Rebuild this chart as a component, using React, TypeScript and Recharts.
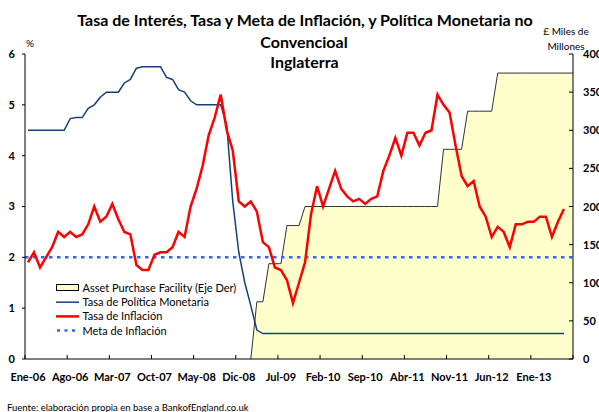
import React from 'react';
import { ComposedChart, Area, Line, XAxis, YAxis, ReferenceLine, Legend } from 'recharts';

const FONT = 'Lato, "DejaVu Sans", sans-serif';

// x-axis tick labels, one every 7 months starting Ene-06
const TICK_LABELS = ['Ene-06', 'Ago-06', 'Mar-07', 'Oct-07', 'May-08', 'Dic-08', 'Jul-09', 'Feb-10', 'Sep-10', 'Abr-11', 'Nov-11', 'Jun-12', 'Ene-13'];
const TICK_STEP = 7;

// Tasa de Política Monetaria (%), monthly Jan-2006 .. Jun-2013
const POLICY_RATE = [
  4.5, 4.5, 4.5, 4.5, 4.5, 4.5, 4.5, 4.73, 4.75, 4.75, 4.93, 5.0,
  5.15, 5.25, 5.25, 5.25, 5.43, 5.5, 5.72, 5.75, 5.75, 5.75, 5.75, 5.54,
  5.5, 5.3, 5.25, 5.08, 5.0, 5.0, 5.0, 5.0, 5.0, 4.6, 3.1, 2.1,
  1.5, 1.05, 0.57, 0.5, 0.5, 0.5, 0.5, 0.5, 0.5, 0.5, 0.5, 0.5,
  0.5, 0.5, 0.5, 0.5, 0.5, 0.5, 0.5, 0.5, 0.5, 0.5, 0.5, 0.5,
  0.5, 0.5, 0.5, 0.5, 0.5, 0.5, 0.5, 0.5, 0.5, 0.5, 0.5, 0.5,
  0.5, 0.5, 0.5, 0.5, 0.5, 0.5, 0.5, 0.5, 0.5, 0.5, 0.5, 0.5,
  0.5, 0.5, 0.5, 0.5, 0.5, 0.5,
];

// Tasa de Inflación (%), monthly Jan-2006 .. Jun-2013
const INFLATION = [
  1.9, 2.1, 1.8, 2.0, 2.2, 2.5, 2.4, 2.5, 2.4, 2.45, 2.65, 3.0,
  2.7, 2.8, 3.05, 2.75, 2.5, 2.45, 1.85, 1.75, 1.75, 2.05, 2.1, 2.1,
  2.2, 2.5, 2.4, 3.0, 3.35, 3.8, 4.4, 4.75, 5.2, 4.5, 4.1, 3.1,
  3.0, 3.1, 2.9, 2.3, 2.2, 1.8, 1.75, 1.55, 1.1, 1.5, 1.9, 2.85,
  3.4, 3.0, 3.35, 3.7, 3.35, 3.2, 3.1, 3.15, 3.05, 3.15, 3.2, 3.7,
  4.0, 4.35, 4.0, 4.45, 4.45, 4.2, 4.45, 4.5, 5.2, 5.0, 4.85, 4.2,
  3.6, 3.4, 3.5, 3.0, 2.8, 2.4, 2.6, 2.5, 2.2, 2.65, 2.65, 2.7,
  2.7, 2.8, 2.8, 2.4, 2.7, 2.95,
];

// Asset Purchase Facility (£ miles de millones), monthly Jan-2006 .. Jul-2013
const APF: (number | null)[] = [
  null, null, null, null, null, null, null, null, null, null, null, null,
  null, null, null, null, null, null, null, null, null, null, null, null,
  null, null, null, null, null, null, null, null, null, null, null, null,
  null, 0, 75, 75, 125, 125, 125, 175, 175, 175, 200, 200,
  200, 200, 200, 200, 200, 200, 200, 200, 200, 200, 200, 200,
  200, 200, 200, 200, 200, 200, 200, 200, 200, 275, 275, 275,
  275, 325, 325, 325, 325, 325, 375, 375, 375, 375, 375, 375,
  375, 375, 375, 375, 375, 375, 375,
];

const INFLATION_TARGET = 2;

const LEFT_TICKS = [0, 1, 2, 3, 4, 5, 6];
const RIGHT_TICKS = [0, 50, 100, 150, 200, 250, 300, 350, 400];

const MONTHS = APF.length;

const rows: any[] = APF.map((apf, i) => ({
  x: i + 0.5,
  rate: POLICY_RATE[i] ?? null,
  cpi: INFLATION[i] ?? null,
  apf,
}));
// the area runs to the end of the last month
rows.push({ x: MONTHS, rate: null, cpi: null, apf: APF[MONTHS - 1] });

const X_TICKS = Array.from({ length: TICK_LABELS.length + 1 }, (_, k) => k * TICK_STEP);

const COLORS = {
  apfFill: '#FFFFCC',
  apfStroke: '#333333',
  rate: '#17407A',
  cpi: '#FF0000',
  target: '#3366FF',
};

const LEGEND_ITEMS = [
  { name: 'Asset Purchase Facility (Eje Der)', kind: 'area' },
  { name: 'Tasa de Política Monetaria', kind: 'rate' },
  { name: 'Tasa de Inflación', kind: 'cpi' },
  { name: 'Meta de Inflación', kind: 'target' },
];

const XTick = (props: any) => {
  const { x, y, payload } = props;
  const label = TICK_LABELS[Math.round(payload.value / TICK_STEP)] ?? '';
  return (
    <g>
      <line x1={x} x2={x} y1={y} y2={y - 4} stroke="#000" strokeWidth={1} />
      <text x={x + 3} y={y + 22} textAnchor="middle" fontFamily={FONT} fontWeight={700} fontSize={11} fill="#000">
        {label}
      </text>
    </g>
  );
};

const RTick = (props: any) => {
  const { x, y, payload } = props;
  return (
    <g>
      <line x1={x - 4} x2={x} y1={y} y2={y} stroke="#000" strokeWidth={1} />
      <text x={x + 10} y={y + 4} textAnchor="start" fontFamily={FONT} fontWeight={700} fontSize={11} fill="#000">
        {payload.value}
      </text>
    </g>
  );
};

const LegendBox = () => (
  <svg width={200} height={60} style={{ display: 'block' }}>
    {LEGEND_ITEMS.map((it, i) => {
      const cy = 9 + i * 14.2;
      let swatch: React.ReactNode = null;
      if (it.kind === 'area') {
        swatch = <rect x={2.5} y={cy - 3.5} width={22} height={6} fill={COLORS.apfFill} stroke="#000" strokeWidth={1} />;
      } else if (it.kind === 'rate') {
        swatch = <line x1={2} x2={25} y1={cy} y2={cy} stroke={COLORS.rate} strokeWidth={1.5} />;
      } else if (it.kind === 'cpi') {
        swatch = <line x1={2} x2={25} y1={cy} y2={cy} stroke={COLORS.cpi} strokeWidth={2.5} />;
      } else {
        swatch = <line x1={3} x2={25} y1={cy} y2={cy} stroke={COLORS.target} strokeWidth={2.5} strokeDasharray="3 4.5" />;
      }
      return (
        <g key={it.name}>
          {swatch}
          <text x={28.5} y={cy + 4} fontFamily={FONT} fontSize={11} fill="#000">
            {it.name}
          </text>
        </g>
      );
    })}
  </svg>
);

export default function App() {
  return (
    <div style={{ position: 'absolute', left: 0, top: 0, width: 599, height: 412, background: '#fff', fontFamily: FONT }}>
      <ComposedChart width={599} height={412} data={rows} margin={{ top: 54, right: 0, bottom: 23, left: 0 }}>
        <XAxis
          dataKey="x"
          type="number"
          domain={[0, MONTHS]}
          ticks={X_TICKS}
          interval={0}
          tickSize={0}
          tickMargin={0}
          tickLine={false}
          tick={<XTick />}
          axisLine={{ stroke: '#000', strokeWidth: 1 }}
          height={30}
          allowDataOverflow
        />
        <YAxis
          domain={[0, 6]}
          ticks={LEFT_TICKS}
          interval={0}
          width={25}
          tickSize={3}
          tickMargin={7}
          tickLine={{ stroke: '#000' }}
          axisLine={{ stroke: '#000', strokeWidth: 1 }}
          tick={{ fontFamily: FONT, fontWeight: 700, fontSize: 11, fill: '#000' }}
          allowDataOverflow
        />
        <YAxis
          yAxisId="r"
          orientation="right"
          domain={[0, 400]}
          ticks={RIGHT_TICKS}
          interval={0}
          width={26}
          tickSize={0}
          tickMargin={0}
          tickLine={false}
          tick={<RTick />}
          axisLine={{ stroke: '#000', strokeWidth: 1 }}
          allowDataOverflow
        />
        <Area
          yAxisId="r"
          dataKey="apf"
          type="linear"
          fill={COLORS.apfFill}
          fillOpacity={1}
          stroke={COLORS.apfStroke}
          strokeWidth={1}
          isAnimationActive={false}
        />
        <ReferenceLine y={INFLATION_TARGET} stroke={COLORS.target} strokeWidth={2.5} strokeDasharray="3.5 4.5" />
        <Line dataKey="rate" type="linear" stroke={COLORS.rate} strokeWidth={1.5} dot={false} isAnimationActive={false} />
        <Line dataKey="cpi" type="linear" stroke={COLORS.cpi} strokeWidth={2.5} dot={false} isAnimationActive={false} />
        <Legend
          layout="horizontal"
          verticalAlign="middle"
          align="center"
          content={() => <LegendBox />}
          wrapperStyle={{ position: 'absolute', left: 54, top: 279, width: 200, height: 60 }}
        />
      </ComposedChart>
      <svg width={599} height={412} style={{ position: 'absolute', left: 0, top: 0, pointerEvents: 'none' }}>
        <g fontFamily={FONT} fill="#000">
          <text x={305} y={25.7} textAnchor="middle" fontWeight={700} fontSize={16}>
            Tasa de Interés, Tasa y Meta de Inflación, y Política Monetaria no
          </text>
          <text x={304} y={48.3} textAnchor="middle" fontWeight={700} fontSize={16}>
            Convencioal
          </text>
          <text x={304.5} y={68.3} textAnchor="middle" fontWeight={700} fontSize={16}>
            Inglaterra
          </text>
          <text x={30} y={46.5} textAnchor="middle" fontSize={10}>%</text>
          <text x={566} y={34.5} textAnchor="middle" fontSize={10}>£ Miles de</text>
          <text x={566} y={50} textAnchor="middle" fontSize={10}>Millones</text>
          <text x={7} y={410.5} fontSize={9.5}>Fuente: elaboración propia en base a BankofEngland.co.uk</text>
        </g>
      </svg>
    </div>
  );
}
